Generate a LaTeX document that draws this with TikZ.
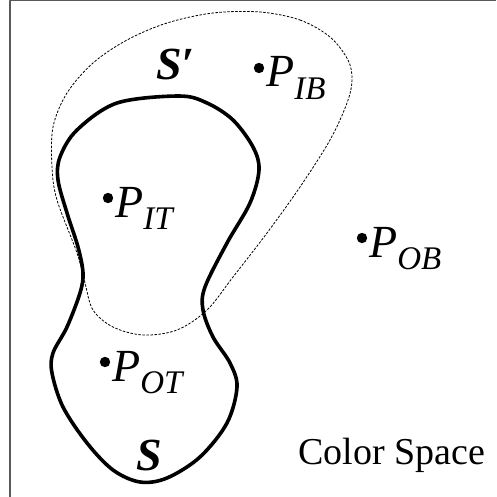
\documentclass[tikz,border=0pt]{standalone}
\usepackage{fontspec}
\setmainfont{Liberation Serif}
\usetikzlibrary{calc}

\newcommand{\ptlabel}[2]{{\itshape #1\raisebox{-0.28em}{\fontsize{33}{33}\selectfont #2}}}

\begin{document}
\begin{tikzpicture}[x=1pt, y=-1pt, line join=round,
    every node/.style={font=\fontsize{38}{38}\selectfont, inner sep=0pt},
    lbl/.style={font=\fontsize{46}{46}\selectfont, anchor=base west},
    dot/.style={fill=black, draw=none},
    region/.style={line width=3.6pt},
    hull/.style={line width=0.8pt, dash pattern=on 2.5pt off 1.5pt}]
          \useasboundingbox (0,0) rectangle (496,497);
          \draw[gray!70!black, line width=1.2pt] (10,497) -- (10,0.5) -- (496,0.5);

          % dashed region S'
          \draw[hull] plot[smooth cycle, tension=0.55] coordinates {
              (260,12) (300,20) (330,37) (348,60) (352,80) (347,103) (330,140)
              (300,187) (267,233) (233,277) (207,310) (177,330) (143,335) (113,327)
              (93,310) (85,283) (77,253) (57,200) (52,167) (53,127) (67,93)
              (93,63) (127,40) (167,23) (213,13)};

          % solid region S
          \draw[region] plot[smooth cycle, tension=0.55] coordinates {
              (179,96) (207,103) (233,120) (253,147) (259,170) (250,203) (227,243)
              (205,287) (203,310) (213,337) (230,363) (237,387) (227,423) (200,457)
              (167,478) (140,482) (113,470) (87,443) (63,407) (52,373) (53,353)
              (67,327) (80,293) (83,273) (78,247) (67,213) (58,180) (60,157)
              (77,130) (117,103)};

          \node[lbl] (sprime) at (156,80) {\bfseries\itshape S′};
          \node[lbl] (sset) at (136,470) {\bfseries\itshape S};

          \fill[dot] (259,68) circle (5.2);
          \node[lbl] (pib) at (266,87) {\ptlabel{P}{IB}};
          \fill[dot] (108,198) circle (5.2);
          \node[lbl] (pit) at (115,217) {\ptlabel{P}{IT}};
          \fill[dot] (362,238) circle (5.2);
          \node[lbl] (pob) at (369,257) {\ptlabel{P}{OB}};
          \fill[dot] (105,362) circle (5.2);
          \node[lbl] (pot) at (112,381) {\ptlabel{P}{OT}};

          \node[anchor=base west] (space) at (298,464) {Color Space};
        \end{tikzpicture}
\end{document}
